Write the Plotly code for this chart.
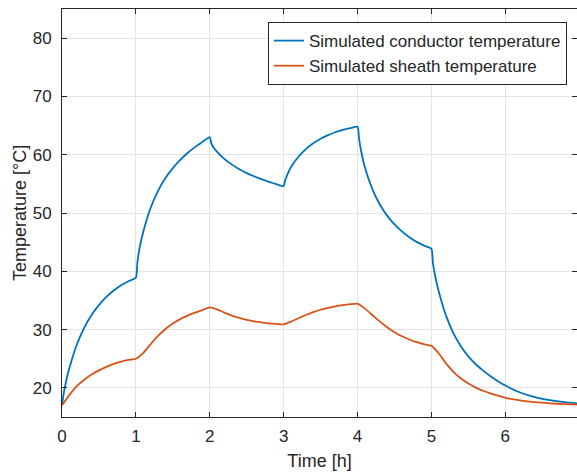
import plotly.graph_objects as go

# Simulated conductor temperature [°C] vs time [h]
time_conductor = [0.0, 0.02, 0.05, 0.1, 0.2, 0.3, 0.4, 0.5, 0.6, 0.7, 0.8, 0.9, 1.0,
                  1.02, 1.05, 1.1, 1.2, 1.3, 1.4, 1.5, 1.6, 1.7, 1.8, 1.9, 2.0,
                  2.02, 2.05, 2.1, 2.2, 2.3, 2.4, 2.5, 2.6, 2.7, 2.8, 2.9, 3.0,
                  3.02, 3.05, 3.1, 3.2, 3.3, 3.4, 3.5, 3.6, 3.7, 3.8, 3.9, 4.0,
                  4.02, 4.05, 4.1, 4.2, 4.3, 4.4, 4.5, 4.6, 4.7, 4.8, 4.9, 5.0,
                  5.02, 5.05, 5.1, 5.2, 5.3, 5.4, 5.5, 5.6, 5.7, 5.8, 5.9, 6.0,
                  6.2, 6.4, 6.6, 6.8, 7.0]
temp_conductor = [17.0, 18.8, 20.8, 23.4, 27.4, 30.3, 32.5, 34.2, 35.6, 36.7, 37.6, 38.3, 38.9,
                  41.5, 44.0, 46.8, 50.9, 53.8, 56.0, 57.7, 59.1, 60.3, 61.3, 62.2, 63.0,
                  62.0, 61.3, 60.5, 59.25, 58.3, 57.5, 56.85, 56.3, 55.8, 55.35, 54.95, 54.6,
                  55.6, 56.6, 57.9, 59.65, 60.95, 61.95, 62.75, 63.35, 63.85, 64.25, 64.55, 64.8,
                  62.8, 60.5, 57.8, 54.1, 51.5, 49.55, 48.05, 46.85, 45.85, 45.05, 44.4, 43.85,
                  41.4, 39.2, 36.5, 32.3, 29.3, 27.1, 25.4, 24.05, 22.95, 22.0, 21.15, 20.4,
                  19.2, 18.4, 17.9, 17.55, 17.3]

# Simulated sheath temperature [°C] vs time [h]
time_sheath = [0.0, 0.1, 0.2, 0.3, 0.4, 0.5, 0.6, 0.7, 0.8, 0.9, 1.0,
               1.1, 1.2, 1.3, 1.4, 1.5, 1.6, 1.7, 1.8, 1.9, 2.0,
               2.1, 2.2, 2.3, 2.4, 2.5, 2.6, 2.7, 2.8, 2.9, 3.0,
               3.1, 3.2, 3.3, 3.4, 3.5, 3.6, 3.7, 3.8, 3.9, 4.0,
               4.1, 4.2, 4.3, 4.4, 4.5, 4.6, 4.7, 4.8, 4.9, 5.0,
               5.1, 5.2, 5.3, 5.4, 5.5, 5.6, 5.7, 5.8, 5.9, 6.0,
               6.2, 6.4, 6.6, 6.8, 7.0]
temp_sheath = [17.0, 18.8, 20.3, 21.4, 22.3, 23.0, 23.6, 24.1, 24.5, 24.8, 25.0,
               26.0, 27.5, 28.9, 30.1, 31.05, 31.8, 32.4, 32.9, 33.35, 33.8,
               33.45, 32.9, 32.4, 32.0, 31.68, 31.42, 31.22, 31.07, 30.97, 30.9,
               31.35, 31.95, 32.5, 33.0, 33.4, 33.73, 34.0, 34.2, 34.35, 34.45,
               33.6, 32.5, 31.4, 30.4, 29.55, 28.85, 28.3, 27.85, 27.5, 27.2,
               25.9, 24.15, 22.7, 21.6, 20.75, 20.05, 19.5, 19.05, 18.65, 18.3,
               17.85, 17.55, 17.35, 17.2, 17.1]

x_ticks = [0, 1, 2, 3, 4, 5, 6, 7]
y_ticks = [20, 30, 40, 50, 60, 70, 80]

FONT = "Liberation Sans, Arial, sans-serif"
AX = "#262626"

fig = go.Figure()
fig.add_trace(go.Scatter(x=time_conductor, y=temp_conductor, mode="lines",
                         name="Simulated conductor temperature",
                         line=dict(color="#0072BD", width=1.8, shape="spline", smoothing=0.5)))
fig.add_trace(go.Scatter(x=time_sheath, y=temp_sheath, mode="lines",
                         name="Simulated sheath temperature",
                         line=dict(color="#D95319", width=1.8, shape="spline", smoothing=0.5)))

axis_common = dict(showline=True, linecolor=AX, linewidth=1, mirror="ticks",
                   ticks="inside", ticklen=5, tickcolor=AX,
                   showgrid=True, gridcolor="#e3e3e3", gridwidth=1,
                   zeroline=False, tickfont=dict(family=FONT, size=17, color=AX))

fig.update_layout(
    width=577, height=474,
    margin=dict(l=62, r=0, t=9, b=57),
    paper_bgcolor="white", plot_bgcolor="white",
    showlegend=True,
    legend=dict(x=0.9806, y=0.968, xanchor="right", yanchor="top",
                bgcolor="white", bordercolor=AX, borderwidth=1,
                font=dict(family=FONT, size=17, color=AX),
                tracegroupgap=0),
    xaxis=dict(range=[0, 6.97], tickvals=x_ticks,
               title=dict(text="Time [h]", font=dict(family=FONT, size=18, color=AX), standoff=8),
               ticklabelstandoff=4, **axis_common),
    yaxis=dict(range=[15, 85], tickvals=y_ticks,
               title=dict(text="Temperature [°C]", font=dict(family=FONT, size=18, color=AX), standoff=1),
               ticklabelstandoff=6, **axis_common),
)

fig.write_html("out.html")
